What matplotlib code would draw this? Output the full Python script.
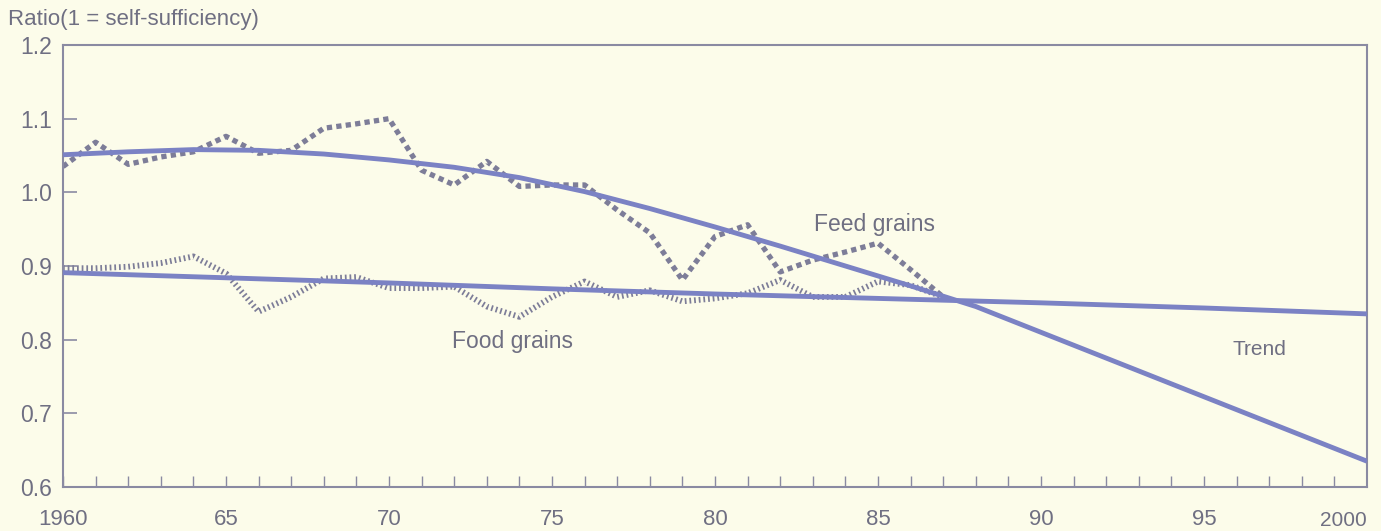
import matplotlib
matplotlib.use("Agg")
import matplotlib.pyplot as plt

# ---- data ----
years_obs = list(range(1960, 1988))
feed_grains = [1.035, 1.068, 1.038, 1.048, 1.055, 1.076, 1.053, 1.057, 1.087, 1.093,
               1.100, 1.030, 1.010, 1.042, 1.008, 1.010, 1.010, 0.976, 0.945, 0.881,
               0.940, 0.956, 0.892, 0.908, 0.919, 0.931, 0.895, 0.858]
food_grains = [0.897, 0.897, 0.899, 0.904, 0.913, 0.890, 0.838, 0.858, 0.883, 0.885,
               0.870, 0.870, 0.872, 0.845, 0.831, 0.858, 0.879, 0.858, 0.867, 0.852,
               0.856, 0.863, 0.881, 0.858, 0.858, 0.879, 0.874, 0.858]

trend_feed_years = [1960, 1962, 1964, 1966, 1968, 1970, 1972, 1974, 1976, 1978, 1980,
                    1982, 1984, 1986, 1988, 1990, 1992, 1994, 1996, 1998, 2000]
trend_feed = [1.051, 1.055, 1.058, 1.057, 1.052, 1.044, 1.034, 1.020, 1.001, 0.978, 0.953,
              0.927, 0.900, 0.873, 0.845, 0.810, 0.775, 0.740, 0.705, 0.670, 0.635]
trend_food_years = [1960, 1965, 1970, 1975, 1980, 1985, 1990, 1995, 2000]
trend_food = [0.891, 0.884, 0.877, 0.869, 0.862, 0.856, 0.850, 0.843, 0.835]

y_ticks = [0.6, 0.7, 0.8, 0.9, 1.0, 1.1, 1.2]
x_major = [1960, 1965, 1970, 1975, 1980, 1985, 1990, 1995]
x_major_labels = ["1960", "65", "70", "75", "80", "85", "90", "95"]

# ---- style ----
BG = "#fcfcea"
TXT = "#6f6f82"
FRAME = "#8a8aa2"
TREND = "#7b82c4"
DOT = "#7d7d98"

plt.rcParams['font.family'] = ['Liberation Sans', 'DejaVu Sans']

fig = plt.figure(figsize=(13.81, 5.31), dpi=100, facecolor=BG)
ax = fig.add_axes([63/1381, 1 - 487/531, (1367 - 63)/1381, (487 - 45)/531])
ax.set_facecolor(BG)

ax.plot(years_obs, feed_grains, color=DOT, lw=3.8, dashes=(1.0, 0.8),
        dash_capstyle='butt', zorder=2)
ax.plot(years_obs, food_grains, color=DOT, lw=4.2, dashes=(0.3, 0.5),
        dash_capstyle='butt', zorder=2)
ax.plot(trend_feed_years, trend_feed, color=TREND, lw=3.5, solid_capstyle='butt', zorder=3)
ax.plot(trend_food_years, trend_food, color=TREND, lw=3.5, solid_capstyle='butt', zorder=3)

ax.set_xlim(1960, 2000)
ax.set_ylim(0.6, 1.2)

ax.set_yticks(y_ticks)
ax.set_yticklabels([f"{v:.1f}" for v in y_ticks])
ax.set_xticks(x_major)
ax.set_xticklabels(x_major_labels)
ax.set_xticks(list(range(1961, 2000)), minor=True)

ax.tick_params(axis='y', direction='in', length=10, width=1.2, color=FRAME,
               labelcolor=TXT, labelsize=16.5, pad=8)
ax.tick_params(axis='x', which='major', direction='in', length=8, width=1.0, color=FRAME,
               labelcolor=TXT, labelsize=16, pad=16)
ax.tick_params(axis='x', which='minor', direction='in', length=8, width=1.0, color=FRAME)

for s in ax.spines.values():
    s.set_color(FRAME)
    s.set_linewidth(1.5)

ax.annotate("2000", xy=(2000, 0.6), xytext=(0, -33), textcoords='offset pixels',
            ha='right', va='center', fontsize=15, color=TXT, annotation_clip=False)

fig.text(8/1381, 1 - 20/531, "Ratio(1 = self-sufficiency)", ha='left', va='center',
         fontsize=16, color=TXT)

ax.text(1984.9, 0.957, "Feed grains", ha='center', va='center', fontsize=16.5, color=TXT)
ax.text(1973.8, 0.798, "Food grains", ha='center', va='center', fontsize=16.5, color=TXT)
ax.text(1996.7, 0.786, "Trend", ha='center', va='center', fontsize=15, color=TXT)

fig.savefig("out.png", dpi=100, facecolor=BG)
